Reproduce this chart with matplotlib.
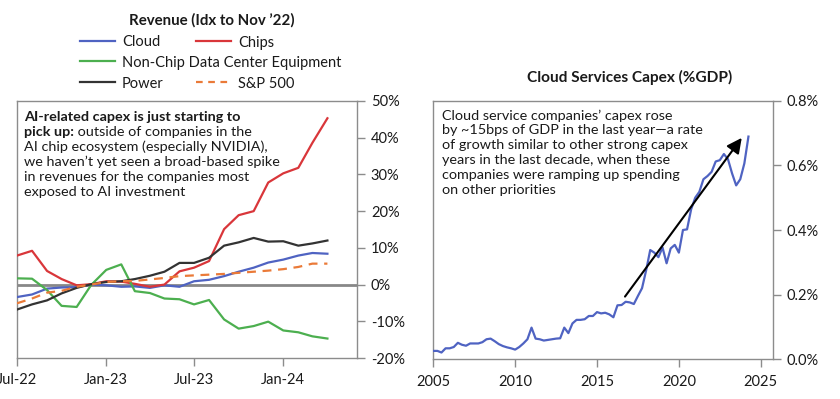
import matplotlib
matplotlib.use("Agg")
import matplotlib.pyplot as plt
import matplotlib.dates as mdates
from matplotlib.lines import Line2D
import numpy as np
import pandas as pd

plt.rcParams['font.family'] = ['Lato', 'DejaVu Sans']

# ---------------- Left chart data (monthly, Jul-22 .. Apr-24) ----------------
months = pd.date_range("2022-07-01", periods=22, freq="MS")
cloud = [-3.4, -2.7, -1.1, -0.8, -0.7, 0.0, -0.2, -0.6, -0.5, -0.9, -0.2, -0.6,
         0.9, 1.3, 2.3, 3.5, 4.6, 6.0, 6.8, 7.9, 8.6, 8.4]
chips = [7.9, 9.2, 3.7, 1.5, -0.2, 0.1, 0.9, 0.8, 0.2, -0.6, 0.0, 3.6,
         4.6, 6.4, 15.1, 18.9, 20.0, 27.8, 30.3, 31.8, 38.6, 45.3]
nonchip = [1.7, 1.6, -1.5, -5.8, -6.1, -0.1, 4.0, 5.5, -1.8, -2.3, -3.8, -4.0,
           -5.4, -4.2, -9.5, -12.0, -11.3, -10.1, -12.5, -13.0, -14.1, -14.7]
power = [-6.8, -5.4, -4.3, -2.4, -0.9, 0.1, 0.7, 0.9, 1.5, 2.4, 3.5, 5.9,
         5.9, 7.3, 10.6, 11.5, 12.7, 11.7, 11.8, 10.6, 11.2, 12.0]
sp500 = [-5.1, -3.8, -2.2, -1.7, -0.6, 0.0, 0.7, 0.9, 1.0, 1.4, 1.8, 2.3,
         2.5, 2.7, 2.9, 3.2, 3.5, 3.8, 4.2, 4.8, 5.7, 5.7]
left_yticks = [-20, -10, 0, 10, 20, 30, 40, 50]
left_xticks = ["2022-07-01", "2023-01-01", "2023-07-01", "2024-01-01"]

# ---------------- Right chart data (quarterly, 2005Q1 .. 2024Q2) ----------------
quarters = pd.date_range("2005-01-01", periods=78, freq="QS")
capex = [0.026, 0.026, 0.021, 0.034, 0.034, 0.038, 0.051, 0.045,
         0.042, 0.049, 0.049, 0.049, 0.053, 0.062, 0.064, 0.056,
         0.047, 0.041, 0.037, 0.034, 0.030, 0.038, 0.049, 0.062,
         0.098, 0.064, 0.062, 0.058, 0.060, 0.062, 0.064, 0.065,
         0.098, 0.081, 0.111, 0.122, 0.122, 0.124, 0.134, 0.134,
         0.146, 0.142, 0.144, 0.139, 0.130, 0.167, 0.168, 0.178,
         0.176, 0.171, 0.196, 0.220, 0.275, 0.338, 0.330, 0.316,
         0.346, 0.297, 0.343, 0.354, 0.330, 0.400, 0.402, 0.464,
         0.500, 0.518, 0.557, 0.567, 0.580, 0.612, 0.616, 0.635,
         0.619, 0.575, 0.538, 0.557, 0.606, 0.689]
right_yticks = [0.0, 0.2, 0.4, 0.6, 0.8]
right_xticks = [2005, 2010, 2015, 2020, 2025]
arrow_start = (2016.71, 0.194)
arrow_end = (2023.84, 0.685)

C_BLUE = "#4f63c2"
C_RED = "#d9363a"
C_GREEN = "#4caf4f"
C_BLACK = "#333333"
C_ORANGE = "#ea7a38"
SPINE = "#8c8c8c"
TXT = "#1a1a1a"

W, H = 840, 399
fig = plt.figure(figsize=(W / 100, H / 100), dpi=100)


def fx(px):
    return px / W


def fy(py):
    return 1 - py / H


def style_axes(ax):
    for s in ax.spines.values():
        s.set_color(SPINE)
        s.set_linewidth(1.0)
    ax.tick_params(axis="both", colors=SPINE, length=6, width=1.0,
                   labelcolor=TXT, labelsize=10.5)
    ax.yaxis.tick_right()
    ax.tick_params(axis="y", pad=4)
    ax.tick_params(axis="x", pad=5)


# ---------------- Left axes ----------------
axL = fig.add_axes([fx(17), fy(358), fx(357 - 17), (358 - 101) / H])
style_axes(axL)
axL.axhline(0, color="#888888", lw=2.0, zorder=1)
lw = 1.6
axL.plot(months, cloud, color=C_BLUE, lw=lw, zorder=3)
axL.plot(months, chips, color=C_RED, lw=lw, zorder=3)
axL.plot(months, nonchip, color=C_GREEN, lw=lw, zorder=3)
axL.plot(months, power, color=C_BLACK, lw=lw, zorder=3)
axL.plot(months, sp500, color=C_ORANGE, lw=lw, ls=(0, (4, 3)), zorder=3)
axL.set_ylim(-20, 50)
axL.set_yticks(left_yticks)
axL.set_yticklabels([f"{v}%" for v in left_yticks])
axL.set_xlim(pd.Timestamp("2022-07-01"), pd.Timestamp("2024-06-01"))
axL.set_xticks([pd.Timestamp(d) for d in left_xticks])
axL.xaxis.set_major_formatter(mdates.DateFormatter("%b-%y"))

# left annotation
fs_ann = 10.4
line_px = 15
x0 = 0.022
y0 = 0.962
t1 = axL.annotate("AI-related capex is just starting to", xy=(x0, y0),
                  xycoords="axes fraction", xytext=(0, 0), textcoords="offset pixels",
                  ha="left", va="top", fontsize=fs_ann, fontweight="bold", color=TXT)
t2 = axL.annotate("pick up:", xy=(x0, y0), xycoords="axes fraction",
                  xytext=(0, -line_px), textcoords="offset pixels",
                  ha="left", va="top", fontsize=fs_ann, fontweight="bold", color=TXT)
axL.annotate(" outside of companies in the", xy=(1, 0), xycoords=t2,
             ha="left", va="bottom", fontsize=fs_ann, color=TXT)
rest = ["AI chip ecosystem (especially NVIDIA),",
        "we haven\u2019t yet seen a broad-based spike",
        "in revenues for the companies most",
        "exposed to AI investment"]
for k, s in enumerate(rest):
    axL.annotate(s, xy=(x0, y0), xycoords="axes fraction",
                 xytext=(0, -line_px * (k + 2)), textcoords="offset pixels",
                 ha="left", va="top", fontsize=fs_ann, color=TXT)

# legend (manual)
fig.text(fx(212), fy(20), "Revenue (Idx to Nov \u201922)", ha="center", va="center",
         fontsize=10.8, fontweight="bold", color=TXT)
leg_items = [
    ("Cloud", C_BLUE, "-", 80, 41),
    ("Chips", C_RED, "-", 196, 41),
    ("Non-Chip Data Center Equipment", C_GREEN, "-", 80, 61),
    ("Power", C_BLACK, "-", 80, 82),
    ("S&P 500", C_ORANGE, (0, (3, 2.5)), 196, 82),
]
for label, col, ls, lx, ly in leg_items:
    fig.add_artist(Line2D([fx(lx), fx(lx + 35)], [fy(ly), fy(ly)], color=col,
                          lw=1.6, ls=ls, transform=fig.transFigure))
    fig.text(fx(lx + 42), fy(ly), label, ha="left", va="center_baseline",
             fontsize=10.5, color=TXT)

# ---------------- Right axes ----------------
axR = fig.add_axes([fx(433.3), fy(359.3), fx(773 - 433.3), (359.3 - 100.7) / H])
style_axes(axR)
qx = quarters.year + (quarters.month - 1) / 12.0
axR.plot(qx, capex, color=C_BLUE, lw=1.6, zorder=3)
axR.set_xlim(2005, 2025.75)
axR.set_ylim(0, 0.8)
axR.set_xticks(right_xticks)
axR.set_xticklabels([str(v) for v in right_xticks])
axR.set_yticks(right_yticks)
axR.set_yticklabels([f"{v:.1f}%" for v in right_yticks])
axR.annotate("", xy=arrow_end, xytext=arrow_start,
             arrowprops=dict(arrowstyle="-|>,head_length=0.9,head_width=0.45",
                             color="black", lw=1.5, shrinkA=0, shrinkB=0),
             zorder=4)
fig.text(fx(630), fy(77), "Cloud Services Capex (%GDP)", ha="center", va="center",
         fontsize=11.1, fontweight="bold", color=TXT)
rlines = ["Cloud service companies\u2019 capex rose",
          "by ~15bps of GDP in the last year\u2014a rate",
          "of growth similar to other strong capex",
          "years in the last decade, when these",
          "companies were ramping up spending",
          "on other priorities"]
for k, s in enumerate(rlines):
    axR.annotate(s, xy=(0.027, 0.966), xycoords="axes fraction",
                 xytext=(0, -line_px * k), textcoords="offset pixels",
                 ha="left", va="top", fontsize=10.4, color=TXT)

fig.savefig("out.png", dpi=100)
